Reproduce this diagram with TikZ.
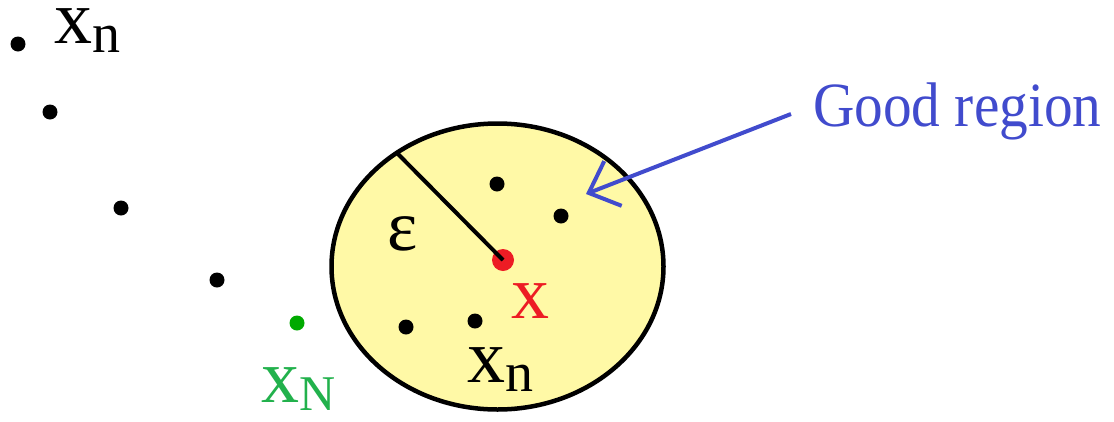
\documentclass[tikz,border=0pt]{standalone}
\usepackage{fontspec}
\setmainfont{Liberation Serif}
\usetikzlibrary{arrows.meta}
\definecolor{regionfill}{RGB}{255,249,166}
\definecolor{goodblue}{RGB}{65,75,205}
\definecolor{limred}{RGB}{237,28,36}
\definecolor{txtgreen}{RGB}{34,177,76}
\definecolor{dotgreen}{RGB}{0,170,0}
\tikzset{
  seqdot/.style={circle,fill=black,inner sep=0pt,minimum size=15pt},
  lbl/.style={inner sep=0pt,anchor=base west,font=\fontsize{76}{76}\selectfont},
}
\newcommand{\subn}[1]{\raisebox{-9pt}{\fontsize{56}{56}\selectfont #1}}
\begin{document}
\begin{tikzpicture}[x=1pt,y=-1pt]
\useasboundingbox (0,0) rectangle (1114,421);
% region
\draw[line width=4.5pt,fill=regionfill] (497.5,266.5) ellipse [x radius=166,y radius=143];
\node[circle,fill=limred,inner sep=0pt,minimum size=22pt] (lim) at (503,260) {};
\coordinate (rim) at (397,153);
\draw[line width=4pt] (rim) -- (lim.center);
% sequence points
\node[seqdot] (p1) at (18,44) {};
\node[seqdot] (p2) at (50,112) {};
\node[seqdot] (p3) at (121,208) {};
\node[seqdot] (p4) at (217,280) {};
\node[circle,fill=dotgreen,inner sep=0pt,minimum size=15pt] (pN) at (297,323) {};
\node[seqdot] (q1) at (497,184) {};
\node[seqdot] (q2) at (561,216) {};
\node[seqdot] (q3) at (406,327) {};
\node[seqdot] (q4) at (475,321) {};
% labels
\node[lbl] (xtop) at (54,43) {\raisebox{0pt}[36pt][0pt]{x\subn{n}}};
\node[lbl] (xbot) at (467,382) {x\subn{n}};
\node[lbl,text=txtgreen] (xN) at (261,402) {x\raisebox{-8pt}{\fontsize{50}{50}\selectfont N}};
\node[lbl,text=limred] (xlim) at (511,318) {x};
\node[inner sep=0pt,font=\fontsize{72}{72}\selectfont] (eps) at (403,234) {ε};
\node[inner sep=0pt,anchor=base west,text=goodblue,font=\fontsize{63}{63}\selectfont] (good) at (813,126) {\scalebox{0.91}[1]{Good region}};
\coordinate (tail) at (791,114);
\coordinate (tip) at (586,194);
\draw[goodblue,line width=4pt,-{Straight Barb[length=26pt,width=48pt,line width=4pt]}] (tail) -- (tip);
\end{tikzpicture}
\end{document}
